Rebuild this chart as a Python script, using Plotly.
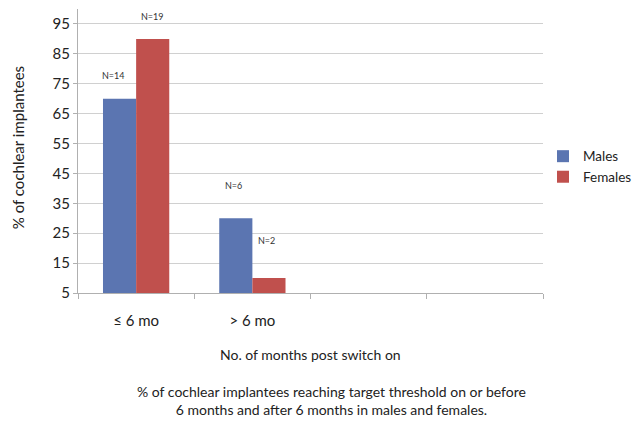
import plotly.graph_objects as go

categories = ["≤ 6 mo", "> 6 mo", "", ""]
males = [70, 30]
females = [90, 10]
male_n = ["N=14", "N=6"]
female_n = ["N=19", "N=2"]
y_ticks = [5, 15, 25, 35, 45, 55, 65, 75, 85, 95]

FONT = "Lato, Open Sans, sans-serif"
xpos = list(range(len(males)))

fig = go.Figure()
fig.add_trace(go.Bar(x=xpos, y=males, name="Males", marker=dict(color="#5B75B1", line=dict(width=0))))
fig.add_trace(go.Bar(x=xpos, y=females, name="Females", marker=dict(color="#C0504D", line=dict(width=0))))

# N labels
off = 0.142
label_specs = [
    (0 - off, males[0], male_n[0], 23, -6),
    (0 + off, females[0], female_n[0], 22, 0),
    (1 - off, males[1], male_n[1], 33, -2),
    (1 + off, females[1], female_n[1], 38, -2),
]
for x, y, t, ys, xs in label_specs:
    fig.add_annotation(x=x, y=y, text=t, showarrow=False, yshift=ys, xshift=xs,
                       font=dict(family=FONT, size=9, color="#333333"))

# axis titles and caption
fig.add_annotation(xref="paper", yref="paper", x=-0.129, y=0.51, showarrow=False,
                   xanchor="center", yanchor="middle",
                   text="% of cochlear implantees", textangle=-90,
                   font=dict(family=FONT, size=15, color="#222222"))
fig.add_annotation(xref="paper", yref="paper", x=0.5, y=-0.218, showarrow=False,
                   xanchor="center", yanchor="middle",
                   text="No. of months post switch on",
                   font=dict(family=FONT, size=14, color="#222222"))
fig.add_annotation(xref="paper", yref="paper", x=0.545, y=-0.31, showarrow=False,
                   xanchor="center",
                   text="% of cochlear implantees reaching target threshold on or before<br>6 months and after 6 months in males and females.",
                   font=dict(family=FONT, size=14, color="#222222"), yanchor="top", align="center")

fig.update_layout(
    width=641, height=425,
    margin=dict(l=78, r=98, t=9, b=132, autoexpand=False),
    paper_bgcolor="white", plot_bgcolor="white",
    barmode="group", bargap=0.43, bargroupgap=0,
    font=dict(family=FONT, size=14, color="#222222"),
    legend=dict(x=1.0, y=0.444, xanchor="left", yanchor="middle",
                font=dict(family=FONT, size=13.5, color="#222222"),
                itemwidth=30, tracegroupgap=0),
    showlegend=True,
)
fig.update_xaxes(
    automargin=False,
    range=[-0.5, len(categories) - 0.5],
    tickvals=list(range(len(categories))), ticktext=categories,
    ticks="", showgrid=False, zeroline=False,
    showline=True, linecolor="#b0b0b0", linewidth=1,
    ticklabelstandoff=14,
    tickfont=dict(family=FONT, size=15, color="#222222"),
    minor=dict(tickvals=[i - 0.5 for i in range(len(categories) + 1)], ticks="outside",
               ticklen=5, tickcolor="#b0b0b0", showgrid=False),
)
fig.update_yaxes(
    automargin=False,
    range=[5, 100], tickvals=y_ticks,
    showgrid=True, gridcolor="#d0d0d0", gridwidth=1,
    zeroline=False, showline=True, linecolor="#b0b0b0", linewidth=1,
    ticks="outside", ticklen=4, tickcolor="#b0b0b0",
    tickfont=dict(family=FONT, size=15, color="#222222"),
)

fig.write_html("out.html", config={"displayModeBar": False},
               post_script="document.body.style.margin='0';")
